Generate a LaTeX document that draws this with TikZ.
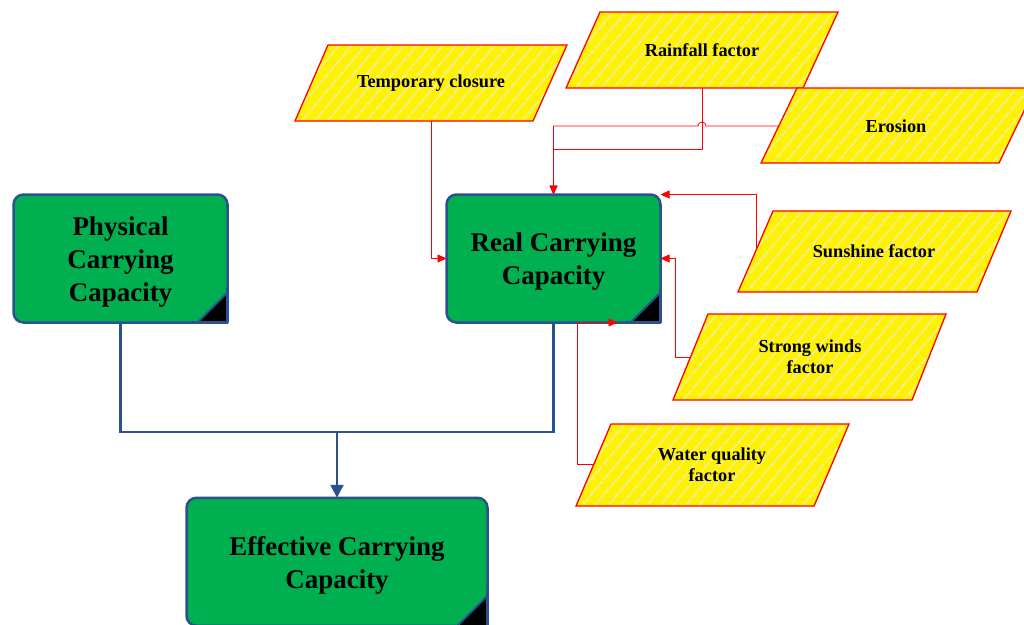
\documentclass[tikz,border=0pt]{standalone}
\usepackage{fontspec}
\setmainfont{Liberation Serif}
\usetikzlibrary{arrows.meta,patterns.meta,calc}
\definecolor{boxgreen}{HTML}{00B050}
\definecolor{boxblue}{HTML}{2A5190}
\definecolor{hatch}{RGB}{238,236,170}
\tikzset{
 gbox/.style={draw=boxblue, line width=2.5pt, fill=boxgreen, rounded corners=10pt, inner sep=0pt, outer sep=0pt,
   minimum width=214pt, minimum height=128pt},
 gtext/.style={align=center, inner sep=0pt, font=\bfseries\fontsize{27}{33}\selectfont},
 fac/.style={preaction={fill=yellow}, pattern={Lines[angle=50,distance=10.5pt,line width=1.7pt]}, pattern color=hatch,
   draw=red, line width=1.3pt, line join=miter},
 factext/.style={font=\bfseries\fontsize{18.3}{21}\selectfont, align=center, inner sep=0pt, outer sep=0pt},
 bline/.style={draw=boxblue, line width=2.5pt},
 barrow/.style={bline, -{Triangle[length=13pt,width=13pt]}},
 rarrow/.style={draw=red, line width=0.8pt, -{Triangle[length=9pt,width=8pt]}},
}
\newcommand\foldcorner[1]{%
 \fill[black] (#1.south east) -- ++(-30,0) -- ++(30,-30) -- cycle;
 \draw[boxblue, line width=2.5pt, line join=round] ($(#1.south east)+(-36,0)$) -- (#1.south east) -- ($(#1.south east)+(0,-36)$);
 \draw[boxblue, line width=2pt] ($(#1.south east)+(-30,0)$) -- ($(#1.south east)+(0,-30)$);
}
\begin{document}
\begin{tikzpicture}[x=1pt,y=-1pt]
\useasboundingbox (0,0) rectangle (1024,624);
% green boxes
\node[gbox] (phys) at (120.5,258.5) {};
\foldcorner{phys}
\node[gtext] (physT) at ([yshift=-3.5pt]phys.center) {Physical\\Carrying\\Capacity};
\node[gbox] (real) at (553.5,258.5) {};
\foldcorner{real}
\node[gtext] (realT) at ([yshift=-3.5pt]real.center) {Real Carrying\\Capacity};
\node[gbox, minimum width=301pt] (eff) at (337,561.75) {};
\foldcorner{eff}
\node[gtext] (effT) at ([yshift=-3.5pt]eff.center) {Effective Carrying\\Capacity};
% factor shapes
\path[fac] (328,45) -- (567,45) -- (533,121) -- (295,121) -- cycle;
\path[fac] (600,12) -- (838,12) -- (803,88) -- (566,88) -- cycle;
\path[fac] (797,88) -- (1035,88) -- (999,163) -- (761,163) -- cycle;
\path[fac] (773,211) -- (1011,211) -- (977,292) -- (738,292) -- cycle;
\path[fac] (708,314) -- (946,314) -- (912,400) -- (673,400) -- cycle;
\path[fac] (611,424) -- (849,424) -- (814,506) -- (576,506) -- cycle;
% factor texts
\node[factext, minimum height=76pt] (temp) at (431,83) {Temporary closure};
\node[factext, minimum height=76pt] (rain) at (702,50) {Rainfall factor};
\node[factext] (ero) at (896,126) {Erosion};
\node[factext] (sun) at (874,251) {Sunshine factor};
\node[factext] (wind) at (810,356.5) {Strong winds\\factor};
\node[factext] (water) at (712,465) {Water quality\\factor};
% connector points
\coordinate (junc) at (337,432);
\coordinate (rjy) at (0,149);
\coordinate (eroW) at (779,126);
\coordinate (sunW) at (756,250);
\coordinate (windW) at (690,357);
\coordinate (windK) at (675,357);
\coordinate (waterW) at (594,464);
\coordinate (waterK) at (577,464);
% blue connectors
\draw[bline] (phys.south) |- (real.south |- junc) -- (real.south);
\draw[barrow] (junc) -- (eff.north);
% red connectors
\draw[rarrow] (temp.south) |- (real.west);
\draw[rarrow] (rain.south) |- (real.north |- rjy) -- (real.north);
\draw[rarrow] (eroW) -- ($(rain.south |- eroW)+(4,0)$) arc (0:-180:4) -- (real.north |- eroW) -- (real.north);
\draw[rarrow] (sunW) |- (real.north east);
\draw[rarrow] (windW) -- (windK) |- (real.east);
\draw[rarrow] (waterW) -- (waterK) |- ([xshift=64pt]real.south);
\end{tikzpicture}
\end{document}
